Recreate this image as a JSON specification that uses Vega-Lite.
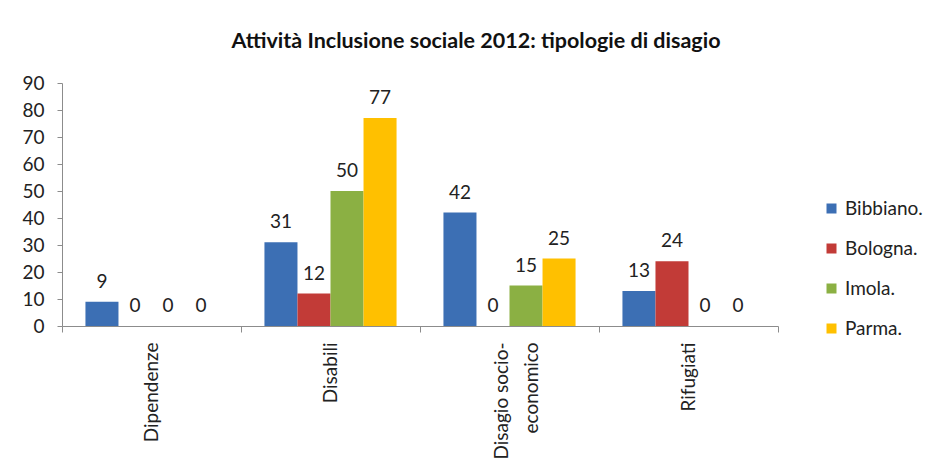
{
  "$schema": "https://vega.github.io/schema/vega-lite/v6.json",
  "autosize": "none",
  "width": 716,
  "height": 243,
  "padding": {"left": 62, "top": 83, "right": 158, "bottom": 140},
  "background": "white",
  "config": {
    "font": "Lato",
    "view": {"stroke": null},
    "axis": {"labelFont": "Lato", "labelFontSize": 19, "labelColor": "#222222", "domainColor": "#8c8c8c", "tickColor": "#8c8c8c", "tickSize": 6, "grid": false, "title": null}
  },
  "title": {"text": "Attività Inclusione sociale 2012: tipologie di disagio", "fontSize": 21.5, "fontWeight": "bold", "font": "Lato", "color": "#111111", "anchor": "middle", "dx": 56, "offset": 22},
  "data": {"values": [
    {"categoria": "Dipendenze", "sede": "Bibbiano.", "valore": 9},
    {"categoria": "Dipendenze", "sede": "Bologna.", "valore": 0},
    {"categoria": "Dipendenze", "sede": "Imola.", "valore": 0},
    {"categoria": "Dipendenze", "sede": "Parma.", "valore": 0},
    {"categoria": "Disabili", "sede": "Bibbiano.", "valore": 31},
    {"categoria": "Disabili", "sede": "Bologna.", "valore": 12},
    {"categoria": "Disabili", "sede": "Imola.", "valore": 50},
    {"categoria": "Disabili", "sede": "Parma.", "valore": 77},
    {"categoria": "Disagio socio-economico", "sede": "Bibbiano.", "valore": 42},
    {"categoria": "Disagio socio-economico", "sede": "Bologna.", "valore": 0},
    {"categoria": "Disagio socio-economico", "sede": "Imola.", "valore": 15},
    {"categoria": "Disagio socio-economico", "sede": "Parma.", "valore": 25},
    {"categoria": "Rifugiati", "sede": "Bibbiano.", "valore": 13},
    {"categoria": "Rifugiati", "sede": "Bologna.", "valore": 24},
    {"categoria": "Rifugiati", "sede": "Imola.", "valore": 0},
    {"categoria": "Rifugiati", "sede": "Parma.", "valore": 0}
  ]},
  "encoding": {
    "x": {"field": "categoria", "type": "nominal", "sort": null,
      "scale": {"paddingInner": 0, "paddingOuter": 0},
      "axis": {"labelAngle": 270, "tickBand": "extent", "labelPadding": 10, "labelLineHeight": 30,
        "labelOffset": {"condition": {"test": "datum.value == 'Disagio socio-economico'", "value": -8}, "value": 0},
        "labelExpr": "datum.value == 'Disagio socio-economico' ? ['Disagio socio-', 'economico'] : datum.value"}},
    "xOffset": {"field": "sede", "type": "nominal", "sort": null, "scale": {"paddingInner": 0, "paddingOuter": 0.71}},
    "y": {"field": "valore", "type": "quantitative",
      "scale": {"domain": [0, 90], "nice": false},
      "axis": {"values": [0, 10, 20, 30, 40, 50, 60, 70, 80, 90], "labelPadding": 13, "tickSize": 5}}
  },
  "layer": [
    {
      "mark": {"type": "bar"},
      "encoding": {
        "color": {"field": "sede", "type": "nominal", "sort": null,
          "scale": {"domain": ["Bibbiano.", "Bologna.", "Imola.", "Parma."], "range": ["#3C6FB4", "#C23B37", "#8BB043", "#FFC000"]},
          "legend": {"title": null, "orient": "none", "legendX": 760, "legendY": 116, "symbolType": "square", "symbolSize": 100, "symbolStrokeWidth": 0, "labelFontSize": 19, "labelFont": "Lato", "labelColor": "#222222", "rowPadding": 20, "labelOffset": 4}}
      }
    },
    {
      "mark": {"type": "text", "baseline": "bottom", "dy": -10, "fontSize": 19, "font": "Lato", "color": "#222222"},
      "encoding": {"text": {"field": "valore", "type": "quantitative"}}
    }
  ]
}
